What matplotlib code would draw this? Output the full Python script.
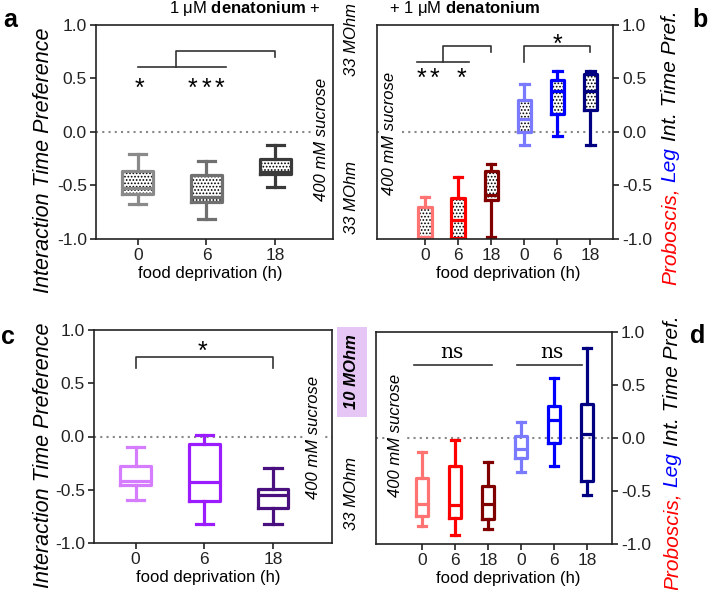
"""
box plots of interaction time preference vs food deprivation (panels a-d)
"""
import matplotlib
matplotlib.use('Agg')
import matplotlib.pyplot as plt
from matplotlib.patches import Rectangle

plt.rcParams['font.family'] = 'Liberation Sans'
plt.rcParams['mathtext.fontset'] = 'custom'
plt.rcParams['mathtext.rm'] = 'Liberation Sans'
plt.rcParams['mathtext.bf'] = 'Liberation Sans:bold'
plt.rcParams['hatch.linewidth'] = 0.8

W, H = 709, 590

# ---- data ----
hours = ['0', '6', '18']
hours2 = ['0', '6', '18', '0', '6', '18']
yticks = [-1.0, -0.5, 0.0, 0.5, 1.0]
ytick_labels = ['-1.0', '-0.5', '0.0', '0.5', '1.0']

# panel a (1 uM denatonium + 400 mM sucrose, 33 MOhm)
a_lo = [-0.676, -0.81, -0.515]
a_q1 = [-0.575, -0.657, -0.395]
a_med = [-0.52, -0.607, -0.37]
a_q3 = [-0.365, -0.405, -0.255]
a_hi = [-0.208, -0.27, -0.12]
a_colors = ['#8a8a8a', '#707070', '#3a3a3a']

# panel b (proboscis 0/6/18, leg 0/6/18)
b_lo = [-1.0, -1.0, -0.985, -0.118, -0.04, -0.118]
b_q1 = [-1.0, -0.99, -0.635, 0.0, 0.171, 0.209]
b_med = [-0.98, -0.822, -0.59, 0.121, 0.386, 0.386]
b_q3 = [-0.698, -0.617, -0.36, 0.302, 0.486, 0.542]
b_hi = [-0.604, -0.424, -0.30, 0.449, 0.567, 0.573]

# panel c (10 MOhm)
c_lo = [-0.593, -0.817, -0.823]
c_q1 = [-0.46, -0.606, -0.674]
c_med = [-0.416, -0.425, -0.55]
c_q3 = [-0.28, -0.071, -0.497]
c_hi = [-0.10, 0.01, -0.295]
c_colors = ['#d57cff', '#9b1cff', '#4a1080']

# panel d
d_lo = [-0.83, -0.918, -0.862, -0.321, -0.264, -0.541]
d_q1 = [-0.736, -0.75, -0.761, -0.189, -0.047, -0.409]
d_med = [-0.626, -0.632, -0.626, -0.10, 0.17, 0.035]
d_q3 = [-0.374, -0.264, -0.453, 0.019, 0.302, 0.318]
d_hi = [-0.132, -0.022, -0.223, 0.154, 0.563, 0.852]

pl_colors = ['#ff7373', '#ff0000', '#800000', '#7a7aff', '#0000ff', '#000080']

# significance star positions (x in category units, y in preference units)
a_stars_x = [0.02, 0.80, 1.0, 1.19]
a_stars_y = [0.47, 0.47, 0.47, 0.47]
b_stars_x = [-0.10, 0.30, 1.11, 4.0]
b_stars_y = [0.56, 0.56, 0.56, 0.885]
c_stars_x = [0.98]
c_stars_y = [0.86]


def px(x, y):
    return x / W, 1 - y / H


# Draw one box per group; optional stipple fill underneath the outline
def draw_boxes(ax, lo, q1, med, q3, hi, colors, width, capw, stipple):
    lw = 2.3
    for i in range(len(lo)):
        st = dict(whislo=lo[i], q1=q1[i], med=med[i], q3=q3[i], whishi=hi[i], fliers=[])
        c = colors[i]
        ax.bxp([st], positions=[i], widths=width, capwidths=capw, showfliers=False,
               boxprops=dict(color=c, lw=lw), whiskerprops=dict(color=c, lw=lw),
               capprops=dict(color=c, lw=lw), medianprops=dict(color=c, lw=lw))
        if stipple:
            ax.add_patch(Rectangle((i - width / 2, q1[i]), width, q3[i] - q1[i],
                                   facecolor='white', edgecolor='black', lw=0,
                                   hatch='.....', zorder=1.5))


def style_axes(ax, xlim, labels, right=False):
    ax.set_xlim(*xlim)
    ax.set_ylim(-1, 1)
    ax.set_xticks(range(len(labels)))
    ax.set_xticklabels(labels)
    ax.set_yticks(yticks)
    ax.set_yticklabels(ytick_labels)
    if right:
        ax.yaxis.tick_right()
    ax.tick_params(direction='out', length=4.5, width=1.2, labelsize=12.5, pad=2,
                   colors='#222222')
    for sp in ax.spines.values():
        sp.set_linewidth(1.2)
        sp.set_color('#222222')
    ax.axhline(0, color='#888888', ls=(0, (1, 2)), lw=1.5, zorder=1)
    ax.set_xlabel('food deprivation (h)', fontsize=12, va='top')


# asterisks centred on the given point
def stars(ax, xs, ys, fs=18):
    for x, y in zip(xs, ys):
        ax.annotate('*', xy=(x, y), xytext=(0, -0.57 * fs), textcoords='offset points',
                    ha='center', va='baseline', fontsize=fs, annotation_clip=False)


def stacked_vlabel(fig, x_px, yc_px, parts, size):
    renderer = fig.canvas.get_renderer()
    texts = []
    for s, c in parts:
        t = fig.text(0, 0, s, color=c, rotation=90, style='italic', fontsize=size,
                     ha='center', va='bottom')
        texts.append(t)
    lens = [t.get_window_extent(renderer).height for t in texts]
    gap = 0.28 * size * fig.dpi / 72
    y = (H - yc_px) - (sum(lens) + gap * (len(parts) - 1)) / 2
    for t, L in zip(texts, lens):
        t.set_position((x_px / W, y / H))
        y += L + gap


fig = plt.figure(figsize=(W / 100, H / 100), dpi=100)

ax_a = fig.add_axes([96 / W, 1 - 239 / H, 237 / W, 214 / H])
ax_b = fig.add_axes([377 / W, 1 - 239 / H, 236 / W, 214 / H])
ax_c = fig.add_axes([94 / W, 1 - 543 / H, 238 / W, 213 / H])
ax_d = fig.add_axes([376 / W, 1 - 544 / H, 236 / W, 212 / H])

# panel a
draw_boxes(ax_a, a_lo, a_q1, a_med, a_q3, a_hi, a_colors, 0.45, 0.25, True)
style_axes(ax_a, (-0.607, 2.84), hours)
ax_a.xaxis.set_label_coords(0.481, -0.126)
ax_a.plot([0, 1.28], [0.61, 0.61], color='#333333', lw=1.2)
ax_a.plot([0.55, 0.55, 1.99, 1.99], [0.61, 0.76, 0.76, 0.70], color='#333333', lw=1.2)
stars(ax_a, a_stars_x, a_stars_y)

# panel b
draw_boxes(ax_b, b_lo, b_q1, b_med, b_q3, b_hi, pl_colors, 0.40, 0.26, True)
style_axes(ax_b, (-1.45, 5.68), hours2, right=True)
ax_b.xaxis.set_label_coords(0.555, -0.126)
ax_b.plot([-0.25, 1.33], [0.65, 0.65], color='#333333', lw=1.2)
ax_b.plot([0.55, 0.55, 2.0, 2.0], [0.65, 0.80, 0.80, 0.75], color='#333333', lw=1.2)
ax_b.plot([3, 3, 5, 5], [0.65, 0.80, 0.80, 0.75], color='#333333', lw=1.2)
stars(ax_b, b_stars_x, b_stars_y)

# panel c
draw_boxes(ax_c, c_lo, c_q1, c_med, c_q3, c_hi, c_colors, 0.45, 0.25, False)
style_axes(ax_c, (-0.607, 2.86), hours)
ax_c.xaxis.set_label_coords(0.479, -0.127)
ax_c.plot([0, 0, 2, 2], [0.64, 0.75, 0.75, 0.64], color='#333333', lw=1.2)
stars(ax_c, c_stars_x, c_stars_y)

# panel d
draw_boxes(ax_d, d_lo, d_q1, d_med, d_q3, d_hi, pl_colors, 0.38, 0.26, False)
style_axes(ax_d, (-1.39, 5.76), hours2, right=True)
ax_d.xaxis.set_label_coords(0.559, -0.127)
ax_d.plot([-0.23, 2.11], [0.686, 0.686], color='#333333', lw=1.2)
ax_d.plot([2.87, 4.84], [0.686, 0.686], color='#333333', lw=1.2)
for xn in [0.92, 3.93]:
    ax_d.text(xn, 0.755, 'ns', family='DejaVu Serif', fontsize=14.5, ha='center', va='baseline')

# text around the panels
fig.text(*px(245, 8), r'1 μM $\mathbf{denatonium}$ +', fontsize=12, ha='center', va='center')
fig.text(*px(465, 8), r'+ 1 μM $\mathbf{denatonium}$', fontsize=12, ha='center', va='center')

for (x, y) in [(322, 139), (390, 133), (314, 437), (395, 435)]:
    fig.text(*px(x, y), '400 mM sucrose', rotation=90, style='italic', fontsize=12,
             ha='center', va='center',
             bbox=dict(facecolor='white', edgecolor='none', pad=1))

for (x, y) in [(352, 40), (352, 197), (352, 493)]:
    fig.text(*px(x, y), '33 MOhm', rotation=90, style='italic', fontsize=12,
             ha='center', va='center')
fig.text(*px(352, 372), '10 MOhm', rotation=90, style='italic', fontweight='bold',
         fontsize=12, ha='center', va='center',
         bbox=dict(boxstyle='square,pad=0.45', facecolor='#e5c6f5', edgecolor='none'))

fig.text(*px(44, 160), 'Interaction Time Preference', rotation=90, style='italic',
         fontsize=15.5, ha='center', va='center')
fig.text(*px(44, 455), 'Interaction Time Preference', rotation=90, style='italic',
         fontsize=15.5, ha='center', va='center')

parts = [('Proboscis,', '#ff0000'), ('Leg', '#0000ff'), ('Int. Time Pref.', 'black')]
stacked_vlabel(fig, 670, 148, parts, 15)
stacked_vlabel(fig, 672, 453, parts, 15)

for (x, y, s) in [(10, 20, 'a'), (700, 20, 'b'), (8, 337, 'c'), (698, 336, 'd')]:
    fig.text(*px(x, y), s, fontsize=18, fontweight='bold', ha='center', va='center')

fig.savefig('out.png', dpi=100)
